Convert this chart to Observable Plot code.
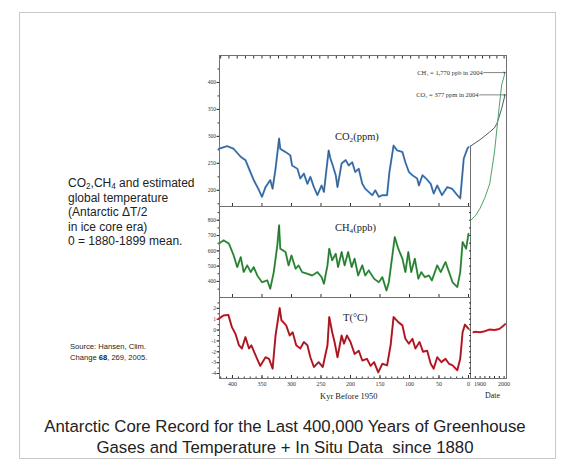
<!DOCTYPE html>
<html><head><meta charset="utf-8">
<script src="https://cdn.jsdelivr.net/npm/d3@7"></script>
<script src="https://cdn.jsdelivr.net/npm/@observablehq/plot@0.6"></script>
<style>
html,body{margin:0;padding:0;background:#fff;}
#root{position:relative;width:570px;height:461px;overflow:hidden;background:#fff;font-family:"Liberation Sans",Arial,sans-serif;color:#222;}
.t{position:absolute;white-space:nowrap;}
.t sub{font-size:0.68em;vertical-align:-0.3em;line-height:0;}
.serif{font-family:"Liberation Serif","Times New Roman",serif;}
#border{position:absolute;left:19px;top:12px;width:535px;height:445px;border:1px solid #c8c8c8;}
</style></head><body><div id="root"><div id="border"></div></div>
<script>
// ---------- data ----------
const co2Kyr = [423,409,398,386,378,372,364,355,350,344,336,332,327,321,319,310,302,299,290,285,279,273,268,262,256,249,245,237,234,230,225,222,215,208,203,197,192,186,180,175,169,163,158,152,146,138,134,127,121,112,107,101,95,87,84,78,72,64,59,53,45,36,28,19,14,8,2,0];
const co2Ppm = [277,282,277,262,256,240,219,200,188,206,219,203,240,296,277,271,265,246,240,222,231,212,225,206,191,209,197,274,259,246,228,206,250,256,246,252,234,240,212,203,197,191,200,188,191,191,234,283,274,271,252,234,228,222,209,228,222,212,194,209,191,206,203,191,185,259,277,280];

const ch4Kyr = [423,415,406,398,392,386,381,375,369,364,358,350,341,336,330,324,321,319,310,305,300,293,288,282,273,265,256,249,245,239,236,231,225,221,215,210,204,198,193,187,180,175,169,160,152,146,139,135,129,125,119,112,107,102,97,91,85,80,74,67,62,53,47,39,33,27,19,14,10,4,0];
const ch4Ppb = [647,669,647,570,494,559,461,505,461,494,439,395,407,352,461,636,767,614,592,505,570,483,505,461,450,439,461,428,385,505,614,538,581,494,592,505,592,494,549,439,505,439,472,418,395,428,341,395,570,690,614,549,461,592,461,549,418,461,428,439,407,505,461,527,461,395,363,461,658,614,712];

const tKyr = [423,415,407,401,395,389,384,378,372,368,361,353,344,338,332,327,320,317,309,303,298,292,285,279,273,268,262,254,247,239,236,231,227,222,215,211,206,200,193,186,180,172,166,160,153,146,138,132,127,119,112,107,101,95,90,83,77,70,64,59,53,46,39,33,27,19,14,10,6,0];
const tDeg = [1.05,1.35,1.4,0.27,-0.34,-1.4,-1.7,-0.65,-1.7,-1.4,-2.3,-3.3,-2.5,-2.65,-3.55,-0.5,2.03,0.9,0.43,-0.5,-0.2,-1.4,-1.7,-1.1,-1.4,-2.5,-3.4,-2.95,-3.4,-1.4,1.2,-0.2,-1.1,-2.5,-0.5,-1.25,-0.5,-1.1,-2.2,-1.9,-2.8,-2.65,-3.3,-2.95,-3.9,-3.1,-3.25,-1.4,1.2,0.73,0.43,-0.8,-1.25,-0.8,-1.7,-1.1,-2.0,-1.9,-3.1,-3.55,-2.5,-2.95,-2.65,-3.1,-3.25,-3.7,-2.65,-0.2,0.5,0.12];

const gasYear = [1860,1880,1900,1920,1940,1960,1970,1980,1990,2004];
const co2InSitu = [282,288,294,301,308,316,324,337,352,377];
const ch4InSitu = [800,830,880,950,1040,1250,1400,1550,1690,1770];
const tYear = [1872,1880,1900,1920,1940,1960,1980,1995,2004];
const tInSitu = [-0.2,-0.15,-0.2,-0.1,0.05,0.0,0.1,0.35,0.55];

const annLabel = ["CH\u2084 = 1,770 ppb in 2004", "CO\u2082 = 377 ppm in 2004"];
const annFrom = [1915, 1898];
const annTo = [2004, 2004];
const annValue = [1770, 377];

const kyrLabels = [400,350,300,250,200,150,100,50,0];
const yearLabels = [1900,2000];
const co2Ticks = [200,250,300,350,400];
const ch4Ticks = [400,500,600,700,800];
const tTicks = [2,1,0,-1,-2,-3,-4];

// ---------- scales / layout ----------
const kyrDomain = [422,-3.4];
const yearDomain = [1860,2010];
const co2Domain = [170,450];
const ch4Domain = [295,890];
const ch4WideDomain = [295,1882];
const tDomain = [-4.46,3.0];
const X0 = 219, X1 = 470, X2 = 506;
const Y0 = 55, Y1 = 206, Y2 = 297, Y3 = 378;

const serif = '"Liberation Serif","Times New Roman",serif';
const frameC = "#707070";
const baseStyle = {background:"transparent", overflow:"visible", fontFamily: serif, color:"#333"};
const root = document.getElementById("root");

const co2 = co2Kyr.map((k,i)=>({k, v:co2Ppm[i]}));
const ch4 = ch4Kyr.map((k,i)=>({k, v:ch4Ppb[i]}));
const temp = tKyr.map((k,i)=>({k, v:tDeg[i]}));
const co2S = gasYear.map((y,i)=>({y, v:co2InSitu[i]}));
const ch4S = gasYear.map((y,i)=>({y, v:ch4InSitu[i]}));
const tS = tYear.map((y,i)=>({y, v:tInSitu[i]}));
const ann = annLabel.map((l,i)=>({l, x1:annFrom[i], x2:annTo[i], v:annValue[i]}));

function place(opts, x0, y0, mL, mT) {
  const svg = Plot.plot(opts);
  svg.style.position = "absolute";
  svg.style.left = (x0 - mL) + "px";
  svg.style.top = (y0 - mT) + "px";
  root.appendChild(svg);
  return svg;
}
const none = () => "";
const plain = d => String(d);
const m = 3;

// outer frame
place({width: X2-X0+2*m, height: Y3-Y0+2*m, margin: m, x:{domain:[0,1], axis:null}, y:{domain:[0,1], axis:null},
  style: baseStyle, marks:[Plot.frame({stroke: frameC})]}, X0, Y0, m, m);

// CO2 ice core panel
place({
  width: X1-X0+26+m, height: Y1-Y0+2*m, marginLeft: 26, marginRight: m, marginTop: m, marginBottom: m,
  x:{domain:kyrDomain}, y:{domain:co2Domain}, style: baseStyle,
  marks:[
    Plot.axisY({ticks: co2Ticks, tickSize: 2.5, tickPadding: 1, fontSize: 5.5, label: null}),
    Plot.axisY({ticks: d3.range(175,450,25), tickSize: 1.5, tickFormat: none, label: null}),
    Plot.axisX({anchor:"top", ticks: d3.range(420,-1,-14), tickSize: 2.5, dy: 2.5, tickFormat: none, label: null}),
    Plot.axisX({anchor:"bottom", ticks: kyrLabels, tickSize: 3, dy: -3, tickFormat: none, label: null}),
    Plot.ruleY([co2Domain[0]], {stroke: frameC}),
    Plot.ruleX([kyrDomain[1]], {y1: co2Domain[0], y2: co2InSitu[0], stroke: frameC}),
    Plot.line(co2, {x:"k", y:"v", stroke:"#4f8fd8", strokeWidth:2}),
    Plot.line(co2, {x:"k", y:"v", stroke:"#3a4654", strokeWidth:0.7})
  ]}, X0, Y0, 26, m);

// CH4 ice core panel
place({
  width: X1-X0+26+m, height: Y2-Y1+2*m, marginLeft: 26, marginRight: m, marginTop: m, marginBottom: m,
  x:{domain:kyrDomain}, y:{domain:ch4Domain}, style: baseStyle,
  marks:[
    Plot.frame({stroke: frameC}),
    Plot.axisY({ticks: ch4Ticks, tickSize: 2.5, tickPadding: 1, fontSize: 5.5, label: null}),
    Plot.axisY({ticks: d3.range(350,890,50), tickSize: 1.5, tickFormat: none, label: null}),
    Plot.axisY({anchor:"right", ticks: d3.range(350,890,50), tickSize: 2, dx: -2, tickFormat: none, label: null}),
    Plot.axisX({anchor:"bottom", ticks: kyrLabels, tickSize: 3, dy: -3, tickFormat: none, label: null}),
    Plot.line(ch4, {x:"k", y:"v", stroke:"#3fb04a", strokeWidth:2}),
    Plot.line(ch4, {x:"k", y:"v", stroke:"#2f4a36", strokeWidth:0.7})
  ]}, X0, Y1, 26, m);

// Temperature ice core panel
place({
  width: X1-X0+26+m, height: Y3-Y2+m+12, marginLeft: 26, marginRight: m, marginTop: m, marginBottom: 12,
  x:{domain:kyrDomain}, y:{domain:tDomain}, style: baseStyle,
  marks:[
    Plot.frame({stroke: frameC}),
    Plot.axisY({ticks: tTicks, tickSize: 2.5, tickPadding: 1, fontSize: 5.5, label: null, tickFormat: plain}),
    Plot.axisY({ticks: d3.range(-4,3,0.5), tickSize: 1.5, tickFormat: none, label: null}),
    Plot.axisY({anchor:"right", ticks: d3.range(-4,3,0.5), tickSize: 2, dx: -2, tickFormat: none, label: null}),
    Plot.axisX({anchor:"bottom", ticks: d3.range(420,-1,-10), tickSize: 1.5, dy: -1.5, tickFormat: none, label: null}),
    Plot.axisX({anchor:"bottom", ticks: kyrLabels, tickSize: 3, dy: -3, tickFormat: none, label: null}),
    Plot.axisX({anchor:"bottom", ticks: kyrLabels, tickSize: 0, tickPadding: 3, fontSize: 6, label: null}),
    Plot.line(temp, {x:"k", y:"v", stroke:"#e0202e", strokeWidth:2}),
    Plot.line(temp, {x:"k", y:"v", stroke:"#5a1e22", strokeWidth:0.7})
  ]}, X0, Y2, 26, m);

// In situ CO2 (right column, CO2 scale)
place({
  width: X2-X1+2*m, height: Y1-Y0+2*m, margin: m,
  x:{domain:yearDomain}, y:{domain:co2Domain, axis:null}, style: baseStyle,
  marks:[
    Plot.axisX({anchor:"top", ticks: d3.range(1880,2010,30), tickSize: 2.5, dy: 2.5, tickFormat: none, label: null}),
    Plot.line(co2S, {x:"y", y:"v", stroke:"#4a5866", strokeWidth:1}),
    Plot.arrow(ann.slice(1), {x1:"x1", x2:"x2", y1:"v", y2:"v", stroke:"#333", strokeWidth:0.6, headLength:3}),
    Plot.text(ann.slice(1), {x:"x1", y:"v", text:"l", textAnchor:"end", dx:-1, fontSize:6.5, fill:"#333"})
  ]}, X1, Y0, m, m);

// In situ CH4 (right column, extended CH4 scale)
place({
  width: X2-X1+2*m, height: Y2-Y0+2*m, margin: m,
  x:{domain:yearDomain, axis:null}, y:{domain:ch4WideDomain, axis:null}, style: baseStyle,
  marks:[
    Plot.line(ch4S, {x:"y", y:"v", stroke:"#4aa466", strokeWidth:1}),
    Plot.arrow(ann.slice(0,1), {x1:"x1", x2:"x2", y1:"v", y2:"v", stroke:"#333", strokeWidth:0.6, headLength:3}),
    Plot.text(ann.slice(0,1), {x:"x1", y:"v", text:"l", textAnchor:"end", dx:-1, fontSize:6.5, fill:"#333"})
  ]}, X1, Y0, m, m);

// In situ temperature (right column)
place({
  width: X2-X1+2*m, height: Y3-Y2+m+12, marginLeft: m, marginRight: m, marginTop: m, marginBottom: 12,
  x:{domain:yearDomain}, y:{domain:tDomain, axis:null}, style: baseStyle,
  marks:[
    Plot.axisX({anchor:"bottom", ticks: d3.range(1880,2010,20), tickSize: 2, dy: -2, tickFormat: none, label: null}),
    Plot.axisX({anchor:"bottom", ticks: yearLabels, tickSize: 0, tickPadding: 3, fontSize: 6, tickFormat: plain, label: null}),
    Plot.line(tS, {x:"y", y:"v", stroke:"#e0202e", strokeWidth:2}),
    Plot.line(tS, {x:"y", y:"v", stroke:"#5a1e22", strokeWidth:0.6})
  ]}, X1, Y2, m, m);

// ---------- text ----------
function addText(html, cls, css) {
  const d = document.createElement("div");
  d.className = "t " + cls;
  d.innerHTML = html;
  Object.assign(d.style, css);
  root.appendChild(d);
}
addText("CO<sub>2</sub>(ppm)", "serif", {left:"335px", top:"131px", fontSize:"10.5px"});
addText("CH<sub>4</sub>(ppb)", "serif", {left:"335px", top:"222px", fontSize:"10.5px"});
addText("T(°C)", "serif", {left:"343px", top:"312px", fontSize:"10.5px"});
addText("Kyr Before 1950", "serif", {left:"320px", top:"391px", fontSize:"8.5px"});
addText("Date", "serif", {left:"485px", top:"391px", fontSize:"8px"});
addText("CO<sub>2</sub>,CH<sub>4</sub> and estimated<br>global temperature<br>(Antarctic ΔT/2<br>in ice core era)<br>0 = 1880-1899 mean.", "",
  {left:"68px", top:"176px", fontSize:"12px", lineHeight:"14.6px"});
addText("Source: Hansen, Clim.<br>Change <b>68</b>, 269, 2005.", "", {left:"70px", top:"342px", fontSize:"7.6px", lineHeight:"10.5px"});
addText("Antarctic Core Record for the Last 400,000 Years of Greenhouse<br>Gases and Temperature + In Situ Data&nbsp; since 1880", "",
  {left:"285px", top:"416px", fontSize:"16.8px", lineHeight:"21px", textAlign:"center", transform:"translateX(-50%)"});
</script>
</body></html>
